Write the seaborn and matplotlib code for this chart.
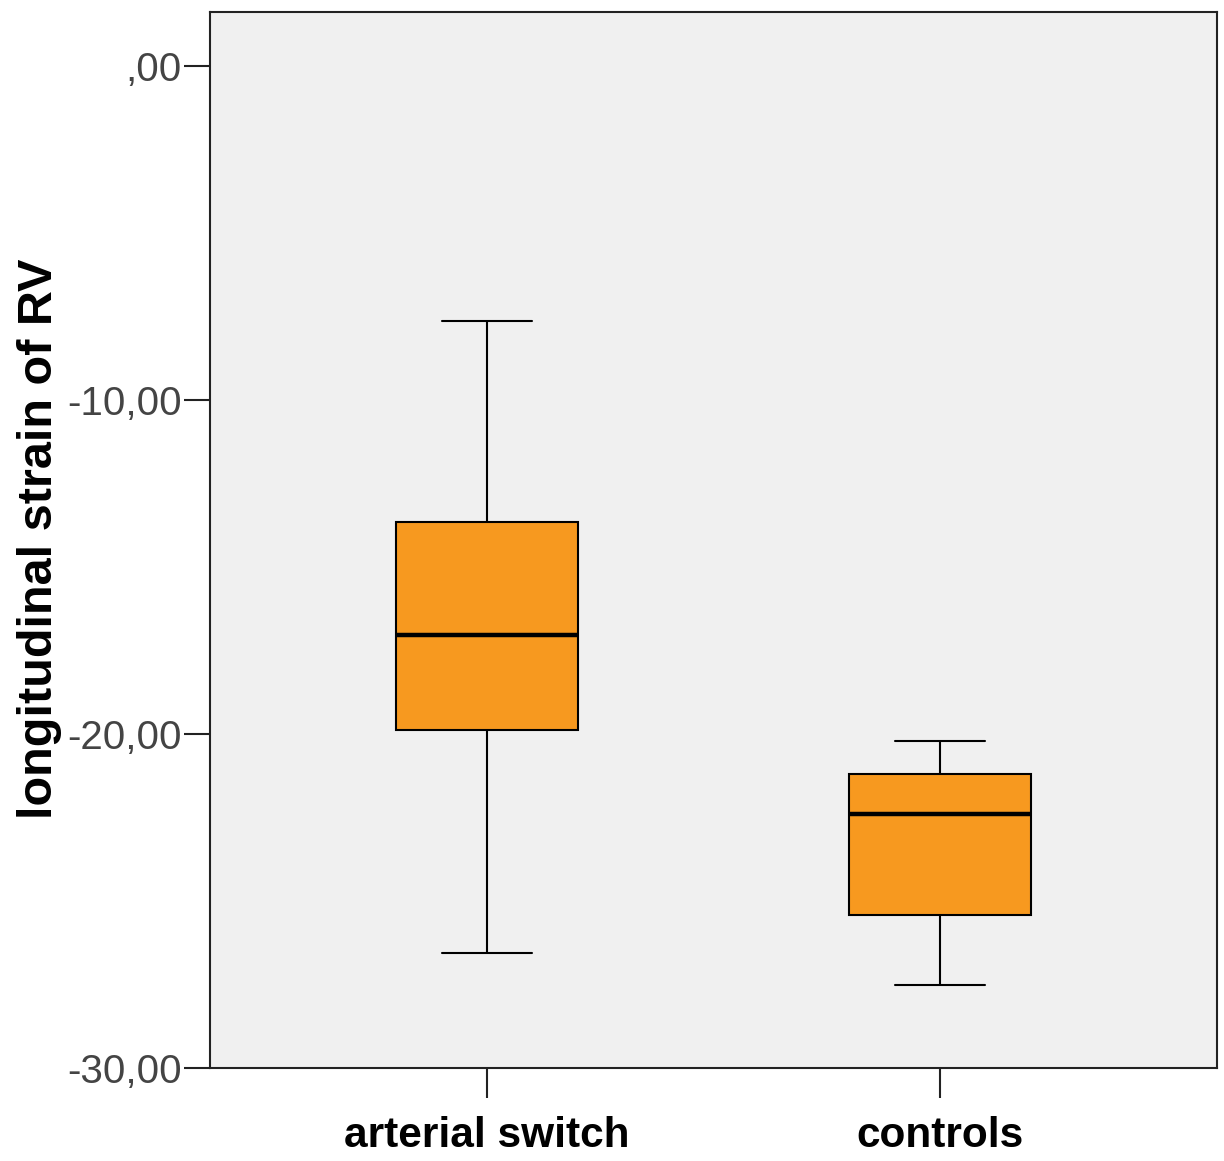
import numpy as np
import pandas as pd
import seaborn as sns
import matplotlib
matplotlib.use("Agg")
import matplotlib.pyplot as plt
from matplotlib.ticker import FuncFormatter

# Five-number summaries per group: min, Q1, median, Q3, max
groups = ["arterial switch", "controls"]
arterial_switch = [-26.56, -19.88, -17.04, -13.65, -7.63]
controls = [-27.51, -25.42, -22.40, -21.20, -20.21]

df = pd.DataFrame({
    "group": [groups[0]] * len(arterial_switch) + [groups[1]] * len(controls),
    "strain": arterial_switch + controls,
})

sns.set_theme(style="white")
plt.rcParams["font.family"] = ["Liberation Sans", "DejaVu Sans"]

fig = plt.figure(figsize=(12.24, 11.61), dpi=100)
ax = fig.add_axes([0.1716, 0.0801, 0.8227, 0.9096])
ax.set_facecolor("#f0f0f0")

sns.boxplot(
    data=df, x="group", y="strain", order=groups, ax=ax,
    whis=(0, 100), width=0.40, color="#f7991f", saturation=1,
    linecolor="black", linewidth=1.5,
    medianprops=dict(color="black", linewidth=3.2),
    whiskerprops=dict(color="black", linewidth=1.5),
    capprops=dict(color="black", linewidth=1.5),
    boxprops=dict(edgecolor="black", linewidth=1.5),
    showfliers=False,
)

ax.set_xlim(-0.611, 1.611)
ax.set_ylim(-30, 1.62)
ax.set_yticks([0, -10, -20, -30])
ax.yaxis.set_major_formatter(FuncFormatter(
    lambda v, p: ",00" if abs(v) < 1e-9 else f"{v:.2f}".replace(".", ",")))

ax.set_xlabel("")
ax.set_ylabel("longitudinal strain of RV", fontsize=35, fontweight="bold",
              color="black")
ax.yaxis.set_label_coords(-0.147, 0.501)

ax.tick_params(axis="y", which="major", direction="out", length=18.7, width=1.5,
               color="#222222", labelsize=29, labelcolor="#444444", pad=1.5, left=True)
ax.tick_params(axis="x", which="major", direction="out", length=21.6, width=1.5,
               color="#222222", labelsize=30.5, labelcolor="black", pad=13, bottom=True)
for lab in ax.get_xticklabels():
    lab.set_fontweight("bold")

for side in ["left", "bottom", "top", "right"]:
    ax.spines[side].set_visible(True)
    ax.spines[side].set_color("#222222")
    ax.spines[side].set_linewidth(1.5)

fig.savefig("out.png", dpi=100, facecolor="white")
